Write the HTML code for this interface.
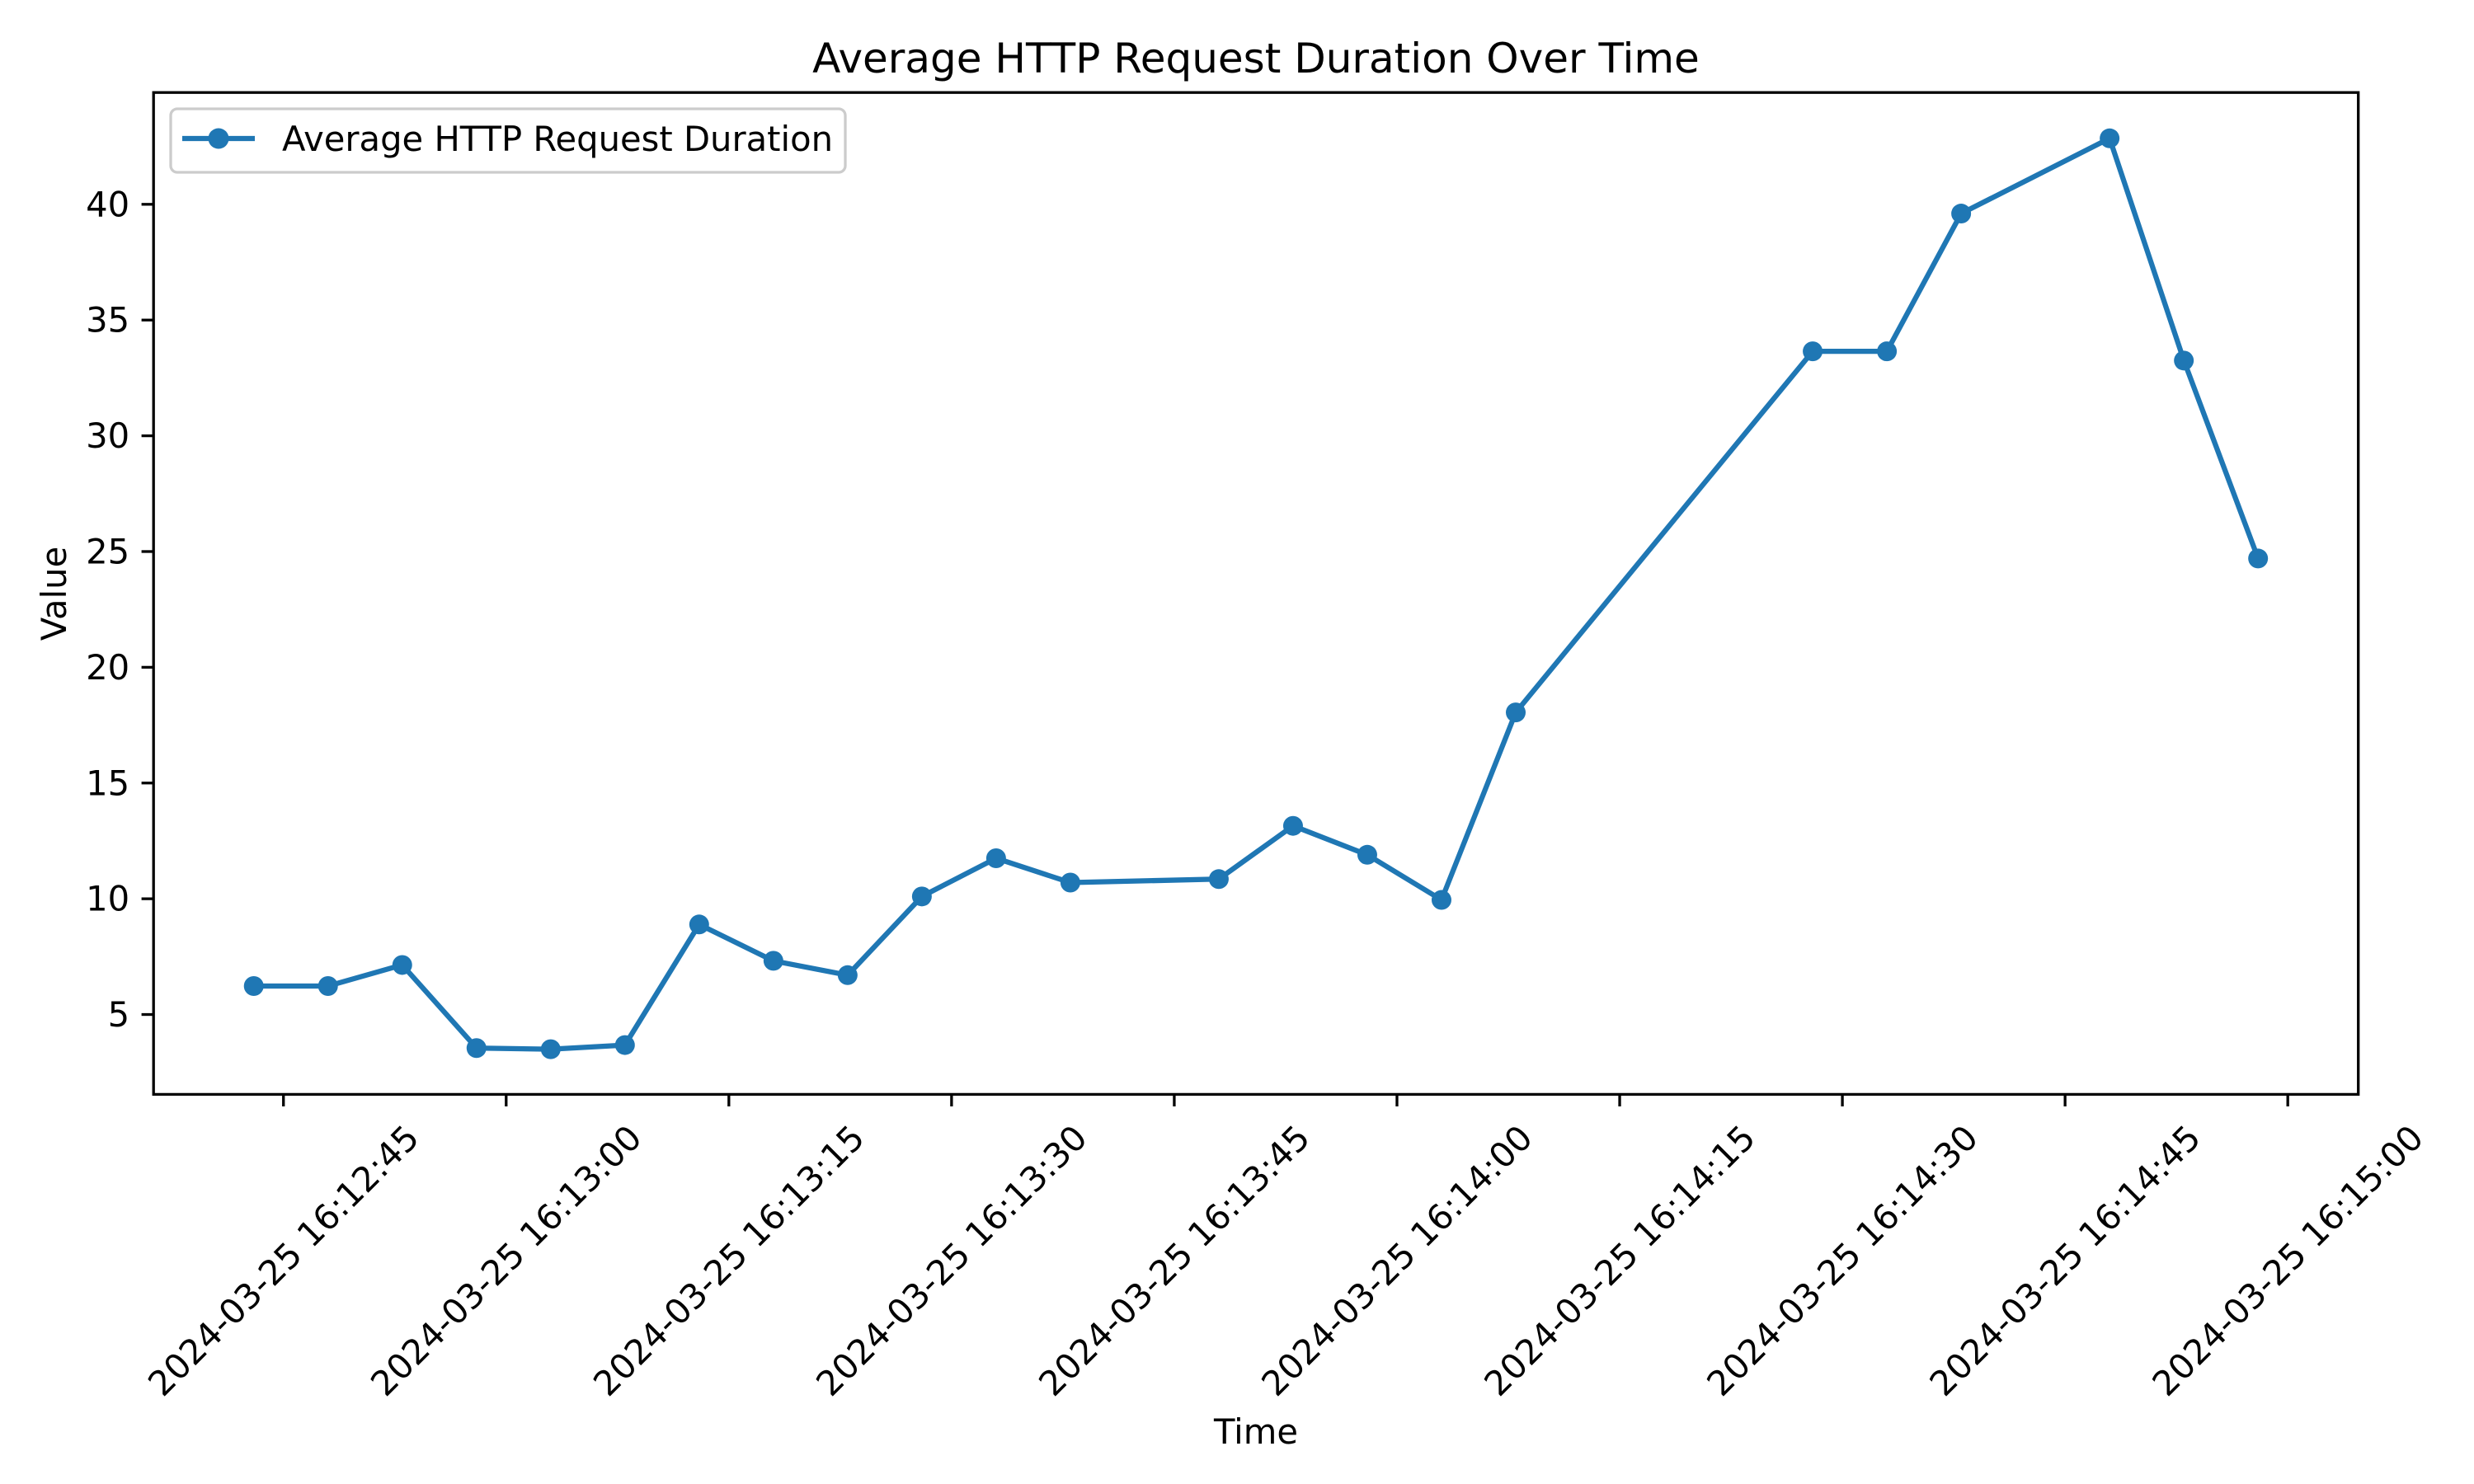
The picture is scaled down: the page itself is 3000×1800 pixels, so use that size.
<!DOCTYPE html>
<html><head><meta charset="utf-8"><style>
html,body{margin:0;padding:0;background:#fff}
svg{display:block}
text{font-family:"DejaVu Sans","Liberation Sans",sans-serif;fill:#000}
</style></head><body>
<svg id="chart" width="3000" height="1800" viewBox="0 0 3000 1800" xmlns="http://www.w3.org/2000/svg">
<rect x="0" y="0" width="3000" height="1800" fill="#fff"/>
<text x="1523" y="88" font-size="50" text-anchor="middle">Average HTTP Request Duration Over Time</text>
<g id="plot"></g>
<text x="1523" y="1751" font-size="41.7" text-anchor="middle">Time</text>
<text x="0" y="0" font-size="41.7" text-anchor="middle" transform="translate(80,720) rotate(-90)">Value</text>
<g>
<rect x="207" y="132" width="818" height="77" rx="8" fill="#fff" fill-opacity="0.8" stroke="#cccccc" stroke-width="3.3"/>
<line x1="221" y1="168" x2="309" y2="168" stroke="#1f77b4" stroke-width="6.25"/>
<circle cx="265" cy="168" r="12.5" fill="#1f77b4"/>
<text x="342" y="183" font-size="41.7">Average HTTP Request Duration</text>
</g>
</svg>
<script>
const times = ["16:12:43","16:12:48","16:12:53","16:12:58","16:13:03","16:13:08","16:13:13","16:13:18","16:13:23","16:13:28","16:13:33","16:13:38","16:13:48","16:13:53","16:13:58","16:14:03","16:14:08","16:14:28","16:14:33","16:14:38","16:14:48","16:14:53","16:14:58"];
const values = [6.23,6.23,7.14,3.55,3.50,3.68,8.89,7.32,6.7,10.1,11.75,10.7,10.85,13.15,11.9,9.95,18.05,33.65,33.65,39.6,42.85,33.25,24.7];
const xTickLabels = ["16:12:45","16:13:00","16:13:15","16:13:30","16:13:45","16:14:00","16:14:15","16:14:30","16:14:45","16:15:00"];
const yTicks = [5,10,15,20,25,30,35,40];
const datePrefix = "2024-03-25 ";

const L=186.2,R=2859.7,T=112.2,B=1327.4;
const xmin=-8.75, xmax=139.75; // seconds from 16:12:45
const ymin=1.55, ymax=44.83;
function secs(s){const p=s.split(':').map(Number);return (p[0]*3600+p[1]*60+p[2])-(16*3600+12*60+45);}
function X(s){return L+(secs(s)-xmin)/(xmax-xmin)*(R-L);}
function Y(v){return B-(v-ymin)/(ymax-ymin)*(B-T);}
const NS="http://www.w3.org/2000/svg";
const g=document.getElementById('plot');
function mk(tag,attrs){const e=document.createElementNS(NS,tag);for(const k in attrs)e.setAttribute(k,attrs[k]);return e;}

yTicks.forEach(v=>{
  const y=Y(v);
  const t=mk('line',{x1:L-14.6,y1:y,x2:L,y2:y,stroke:'#000','stroke-width':3.3});
  
  
  g.appendChild(t);
  const tx=mk('text',{x:L-29,y:y,'font-size':41.7,'text-anchor':'end','dominant-baseline':'central'});
  tx.textContent=String(v);
  
  
  g.appendChild(tx);
});
xTickLabels.forEach(s=>{
  const x=X(s);
  const t=mk('line',{x1:x,y1:B,x2:x,y2:B+14.6,stroke:'#000','stroke-width':3.3});
  
  
  g.appendChild(t);
  const cy=1529;
  const tx=mk('text',{x:x,y:cy,'font-size':41.7,'text-anchor':'middle','dominant-baseline':'central',transform:`rotate(-45 ${x} ${cy})`});
  tx.textContent=datePrefix+s;
  
  
  g.appendChild(tx);
});
const pts=times.map((s,i)=>X(s).toFixed(1)+','+Y(values[i]).toFixed(1)).join(' ');
const pl=mk('polyline',{points:pts,fill:'none',stroke:'#1f77b4','stroke-width':6.25,'stroke-linejoin':'round','stroke-linecap':'square'});


g.appendChild(pl);
times.forEach((s,i)=>{
  const c=mk('circle',{cx:X(s),cy:Y(values[i]),r:12,fill:'#1f77b4'});
  
  
  g.appendChild(c);
});
const sp=mk('rect',{x:L,y:T,width:R-L,height:B-T,fill:'none',stroke:'#000','stroke-width':3.3});


g.appendChild(sp);
</script>
</body></html>
